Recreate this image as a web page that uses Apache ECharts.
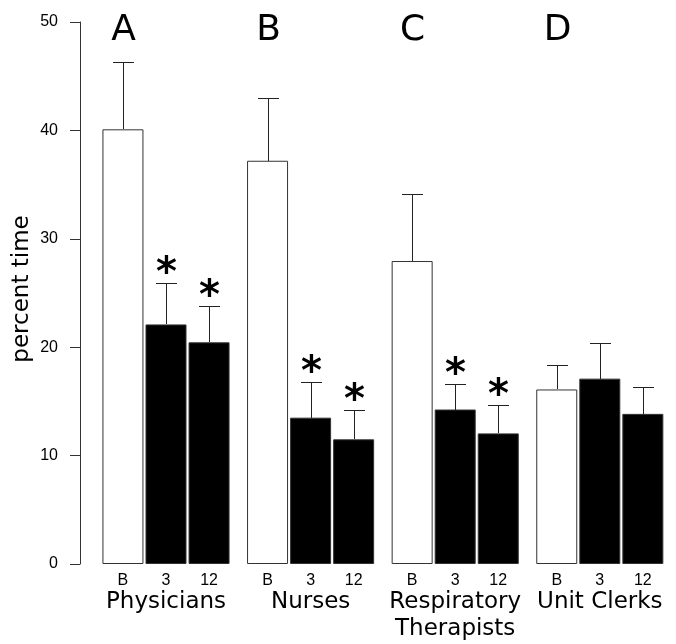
<!DOCTYPE html>
<html>
<head>
<meta charset="utf-8">
<script src="https://cdn.jsdelivr.net/npm/echarts@6/dist/echarts.min.js"></script>
<style>html,body{margin:0;padding:0;background:#fff;}#chart{width:676px;height:644px;}</style>
</head>
<body>
<div id="chart"></div>
<script>
// ---- data ----
var categories = ['Physicians', 'Nurses', 'Respiratory\nTherapists', 'Unit Clerks'];
var panelLetters = ['A', 'B', 'C', 'D'];
var timepoints = ['B', '3', '12'];
var baselineValues = [40.1, 37.2, 27.95, 16.1];
var month3Values = [22.1, 13.5, 14.25, 17.1];
var month12Values = [20.45, 11.5, 12.05, 13.85];
var baselineErr = [6.2, 5.8, 6.15, 2.3];
var month3Err = [3.8, 3.25, 2.4, 3.25];
var month12Err = [3.35, 2.75, 2.65, 2.45];
var month3Sig = [1, 1, 1, 0];
var month12Sig = [1, 1, 1, 0];
var yTicks = [0, 10, 20, 30, 40, 50];

// ---- styles ----
var BAR_W = 41, BAR_GAP = 0.05;
var LINE_COLOR = '#222';

var values = [baselineValues, month3Values, month12Values];
var errs = [baselineErr, month3Err, month12Err];
var sigs = [[0, 0, 0, 0], month3Sig, month12Sig];
var fills = ['#ffffff', '#000000', '#000000'];

var series = [];
timepoints.forEach(function (tp, s) {
  series.push({
    type: 'bar',
    name: tp,
    data: values[s],
    barWidth: BAR_W,
    barGap: (BAR_GAP * 100) + '%',
    itemStyle: { color: fills[s], borderColor: '#333', borderWidth: 1 },
    label: {
      show: true, position: 'bottom', distance: 9,
      formatter: function () { return tp; },
      fontFamily: 'Liberation Sans', fontSize: 16, color: '#000'
    },
    emphasis: { disabled: true },
    z: 2
  });
});

timepoints.forEach(function (tp, s) {
  var data = values[s].map(function (v, i) {
    return [i, v, v + errs[s][i], sigs[s][i]];
  });
  series.push({
    type: 'custom',
    name: tp + '_err',
    data: data,
    encode: { x: 0, y: 2 },
    z: 3,
    silent: true,
    renderItem: function (params, api) {
      var cat = api.value(0);
      var lo = api.coord([cat, api.value(1)]);
      var hi = api.coord([cat, api.value(2)]);
      var off = (s - 1) * (BAR_W + BAR_W * BAR_GAP);
      var x = Math.round(lo[0] + off) + 0.5;
      var yLo = Math.round(lo[1]), yHi = Math.round(hi[1]) + 0.5;
      var children = [
        { type: 'line', shape: { x1: x, y1: yLo, x2: x, y2: yHi }, style: { stroke: LINE_COLOR, lineWidth: 1 } },
        { type: 'line', shape: { x1: x - 10.5, y1: yHi, x2: x + 10.5, y2: yHi }, style: { stroke: LINE_COLOR, lineWidth: 1 } }
      ];
      if (api.value(3)) {
        children.push({
          type: 'text', x: x, y: yHi - 9,
          style: { text: '*', fontFamily: 'DejaVu Sans', fontWeight: 'bold', fontSize: 40, fill: '#000', align: 'center', verticalAlign: 'middle' }
        });
      }
      if (s === 0) {
        var top = api.coord([cat, 50]);
        children.push({
          type: 'text', x: x, y: top[1] + 9,
          style: { text: panelLetters[cat], fontFamily: 'DejaVu Sans', fontSize: 36, fill: '#000', align: 'center', verticalAlign: 'middle' }
        });
      }
      return { type: 'group', children: children };
    }
  });
});

var chart = echarts.init(document.getElementById('chart'), null, { renderer: 'canvas' });
chart.setOption({
  animation: false,
  backgroundColor: '#fff',
  grid: { left: 93.7, right: 3.9, top: 22, bottom: 80, containLabel: false, outerBoundsMode: 'none' },
  xAxis: {
    type: 'category',
    data: categories,
    axisLine: { show: false },
    axisTick: { show: false },
    axisLabel: {
      interval: 0, margin: 25, fontFamily: 'DejaVu Sans', fontSize: 23, lineHeight: 27, color: '#000'
    },
    splitLine: { show: false }
  },
  yAxis: {
    type: 'value',
    min: yTicks[0], max: yTicks[yTicks.length - 1], interval: yTicks[1] - yTicks[0],
    offset: 13.7,
    name: 'percent time',
    nameLocation: 'middle',
    nameGap: 46,
    nameMoveOverlap: false,
    nameTextStyle: { fontFamily: 'DejaVu Sans', fontSize: 23, color: '#000', padding: [0, 0, 0, 8] },
    axisLine: { show: true, lineStyle: { color: '#333', width: 1 } },
    axisTick: { show: true, inside: false, length: 10, lineStyle: { color: '#333', width: 1 } },
    axisLabel: { margin: 22, fontFamily: 'Liberation Sans', fontSize: 16, color: '#000' },
    splitLine: { show: false }
  },
  series: series
});
</script>
</body>
</html>
